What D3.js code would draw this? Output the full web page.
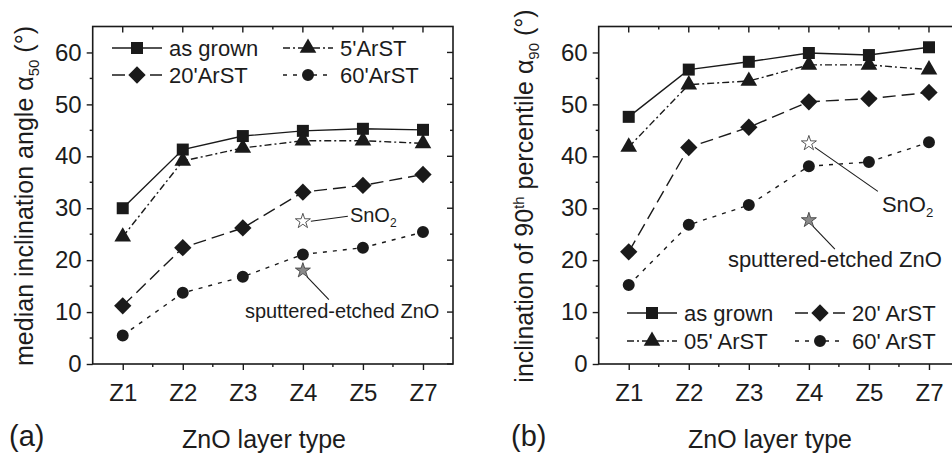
<!DOCTYPE html>
<html lang="en">
<head>
    <meta charset="UTF-8">
    <title>ZnO inclination angles</title>
    <style>
        body { margin: 0; background: #fff; }
        text { font-family: "Liberation Sans", Arial, sans-serif; fill: #1c1c1c; }
    </style>
</head>
<body>
    <div id="graph"></div>
    <script src="https://d3js.org/d3.v7.min.js"></script>
    <script>
        // Categories and ticks
        const CATEGORIES = ["Z1", "Z2", "Z3", "Z4", "Z5", "Z7"];
        const Y_TICKS = [0, 10, 20, 30, 40, 50, 60];
        const Y_MINOR = [5, 15, 25, 35, 45, 55];

        // Panel (a): median inclination angle
        const A_AS_GROWN = [30.0, 41.3, 43.9, 44.9, 45.3, 45.1];
        const A_5ARST = [24.5, 39.1, 41.6, 43.0, 43.0, 42.5];
        const A_20ARST = [11.2, 22.4, 26.2, 33.1, 34.4, 36.5];
        const A_60ARST = [5.5, 13.7, 16.8, 21.1, 22.4, 25.4];
        const A_SNO2 = 27.5;
        const A_SPUTTER = 18.0;

        // Panel (b): 90th percentile
        const B_AS_GROWN = [47.6, 56.7, 58.2, 59.9, 59.5, 61.0];
        const B_05ARST = [41.8, 53.8, 54.5, 57.6, 57.6, 56.7];
        const B_20ARST = [21.6, 41.7, 45.6, 50.5, 51.1, 52.3];
        const B_60ARST = [15.2, 26.8, 30.6, 38.1, 38.9, 42.7];
        const B_SNO2 = 42.5;
        const B_SPUTTER = 27.7;

        const A_LABELS = ["as grown", "5'ArST", "20'ArST", "60'ArST"];
        const B_LABELS = ["as grown", "05' ArST", "20' ArST", "60' ArST"];

        const WIDTH = 952, HEIGHT = 455;
        const INK = "#1a1a1a";

        // styles per series: marker + dash
        const STYLES = [
            { sym: d3.symbolSquare, size: 144, rot: 0, dash: null },
            { sym: d3.symbolTriangle, size: 120, rot: 0, dash: "7 3 2 3" },
            { sym: d3.symbolSquare, size: 150, rot: 45, dash: "13 6" },
            { sym: d3.symbolCircle, size: 113, rot: 0, dash: "4 6" }
        ];

        const svg = d3.select("#graph")
            .append("svg")
            .attr("width", WIDTH)
            .attr("height", HEIGHT);

        function drawPanel(p) {
            const x = d3.scalePoint().domain(CATEGORIES).range([p.left, p.right]).padding(0.5);
            const y = d3.scaleLinear().domain([0, 65]).range([364, 26.5]);
            const g = svg.append("g");

            // frame
            g.append("rect")
                .attr("x", p.left).attr("y", y(65))
                .attr("width", p.right - p.left).attr("height", y(0) - y(65))
                .attr("fill", "none").attr("stroke", INK).attr("stroke-width", 1.6);

            // axes (left / bottom outward, top / right inward)
            const step = x.step();
            const xMinor = CATEGORIES.slice(0, -1).map(c => x(c) + step / 2);
            const left = g.append("g").attr("transform", `translate(${p.left},0)`)
                .call(d3.axisLeft(y).tickValues(Y_TICKS).tickSize(6).tickPadding(5));
            const bottom = g.append("g").attr("transform", `translate(0,${y(0)})`)
                .call(d3.axisBottom(x).tickSize(6).tickPadding(14));
            [left, bottom].forEach(a => {
                a.select(".domain").remove();
                a.selectAll("line").attr("stroke", INK).attr("stroke-width", 1.4);
                a.selectAll("text").attr("font-size", 24).attr("fill", INK)
                    .attr("font-family", "Liberation Sans, Arial, sans-serif");
            });
            // minor ticks and mirrored ticks
            const tk = g.append("g").attr("stroke", INK).attr("stroke-width", 1.4);
            Y_MINOR.forEach(v => {
                tk.append("line").attr("x1", p.left - 3).attr("x2", p.left).attr("y1", y(v)).attr("y2", y(v));
                tk.append("line").attr("x1", p.right - 3).attr("x2", p.right).attr("y1", y(v)).attr("y2", y(v));
            });
            Y_TICKS.forEach(v => {
                tk.append("line").attr("x1", p.right - 6).attr("x2", p.right).attr("y1", y(v)).attr("y2", y(v));
            });
            xMinor.forEach(v => {
                tk.append("line").attr("x1", v).attr("x2", v).attr("y1", y(0)).attr("y2", y(0) + 3);
                tk.append("line").attr("x1", v).attr("x2", v).attr("y1", y(65)).attr("y2", y(65) + 3);
            });
            CATEGORIES.forEach(c => {
                tk.append("line").attr("x1", x(c)).attr("x2", x(c)).attr("y1", y(65)).attr("y2", y(65) + 6);
            });

            // series
            p.series.forEach((vals, i) => {
                const st = STYLES[i];
                const pts = vals.map((v, j) => [x(CATEGORIES[j]), y(v)]);
                g.append("path")
                    .attr("d", d3.line()(pts))
                    .attr("fill", "none").attr("stroke", INK).attr("stroke-width", 1.4)
                    .attr("stroke-dasharray", st.dash);
                g.selectAll(null).data(pts).enter().append("path")
                    .attr("d", d3.symbol(st.sym, st.size))
                    .attr("transform", d => `translate(${d[0]},${d[1]}) rotate(${st.rot})`)
                    .attr("fill", INK);
            });

            // stars
            const sx = x("Z4");
            const stars = [
                { v: p.sno2, fill: "#fff" },
                { v: p.sputter, fill: "#8a8a8a" }
            ];
            g.selectAll(null).data(stars).enter().append("path")
                .attr("d", d3.symbol(d3.symbolStar, 70))
                .attr("transform", d => `translate(${sx},${y(d.v)})`)
                .attr("fill", d => d.fill).attr("stroke", "#444").attr("stroke-width", 0.9);

            // annotations
            p.notes.forEach(n => {
                const y0 = y(n.v);
                g.append("line")
                    .attr("x1", sx + n.lx1).attr("y1", y0 + n.ly1)
                    .attr("x2", sx + n.lx2).attr("y2", y0 + n.ly2)
                    .attr("stroke", INK).attr("stroke-width", 1.1);
                const t = g.append("text")
                    .attr("x", sx + n.tx).attr("y", y0 + n.ty)
                    .attr("font-size", n.fs);
                if (n.sub) {
                    t.append("tspan").text("SnO");
                    t.append("tspan").attr("dy", 5).attr("font-size", n.fs * 0.6).text("2");
                } else {
                    t.text(n.label);
                }
            });

            // legend
            p.legend.forEach(lg => {
                const st = STYLES[lg.s];
                const lx = lg.x, ly = lg.y;
                g.append("line")
                    .attr("x1", lx).attr("x2", lx + 50).attr("y1", ly).attr("y2", ly)
                    .attr("stroke", INK).attr("stroke-width", 1.4)
                    .attr("stroke-dasharray", st.dash);
                g.append("path")
                    .attr("d", d3.symbol(st.sym, st.size))
                    .attr("transform", `translate(${lx + 25},${ly}) rotate(${st.rot})`)
                    .attr("fill", INK);
                g.append("text")
                    .attr("x", lx + 57).attr("y", ly + 8)
                    .attr("font-size", 22)
                    .text(lg.label);
            });

            // y title (rotated)
            const yt = g.append("text")
                .attr("transform", `translate(${p.ytX},196) rotate(-90)`)
                .attr("text-anchor", "middle")
                .attr("font-size", 25);
            p.ytitle(yt);

            // x title and panel letter
            g.append("text")
                .attr("x", p.xtX).attr("y", 448)
                .attr("text-anchor", "middle")
                .attr("font-size", 25)
                .text("ZnO layer type");
            g.append("text")
                .attr("x", p.letterX).attr("y", 446)
                .attr("font-size", 29)
                .text(p.letter);
        }

        drawPanel({
            left: 92.7, right: 453,
            series: [A_AS_GROWN, A_5ARST, A_20ARST, A_60ARST],
            sno2: A_SNO2, sputter: A_SPUTTER,
            notes: [
                { v: A_SNO2, lx1: 8, ly1: 0, lx2: 45, ly2: -5, tx: 47, ty: 1, fs: 20, sub: true },
                { v: A_SPUTTER, lx1: 4, ly1: 6, lx2: 26, ly2: 29, tx: -58, ty: 47, fs: 20, label: "sputtered-etched ZnO" }
            ],
            legend: [
                { s: 0, x: 112, y: 48, label: A_LABELS[0] },
                { s: 1, x: 283, y: 48, label: A_LABELS[1] },
                { s: 2, x: 112, y: 75, label: A_LABELS[2] },
                { s: 3, x: 283, y: 75, label: A_LABELS[3] }
            ],
            ytX: 33,
            ytitle: t => {
                t.append("tspan").text("median inclination angle α");
                t.append("tspan").attr("dy", 6).attr("font-size", 15).text("50");
                t.append("tspan").attr("dy", -6).text(" (°)");
            },
            xtX: 264, letterX: 9, letter: "(a)"
        });

        drawPanel({
            left: 598.7, right: 959,
            series: [B_AS_GROWN, B_05ARST, B_20ARST, B_60ARST],
            sno2: B_SNO2, sputter: B_SPUTTER,
            notes: [
                { v: B_SNO2, lx1: 6, ly1: 4, lx2: 69, ly2: 48, tx: 73, ty: 69, fs: 22, sub: true },
                { v: B_SPUTTER, lx1: 4, ly1: 6, lx2: 26, ly2: 29, tx: -81, ty: 47, fs: 22, label: "sputtered-etched ZnO" }
            ],
            legend: [
                { s: 0, x: 627, y: 313, label: B_LABELS[0] },
                { s: 2, x: 795, y: 313, label: B_LABELS[2] },
                { s: 1, x: 627, y: 341, label: B_LABELS[1] },
                { s: 3, x: 795, y: 341, label: B_LABELS[3] }
            ],
            ytX: 533,
            ytitle: t => {
                t.append("tspan").text("inclination of 90");
                t.append("tspan").attr("dy", -9).attr("font-size", 15).text("th");
                t.append("tspan").attr("dy", 9).text(" percentile α");
                t.append("tspan").attr("dy", 6).attr("font-size", 15).text("90");
                t.append("tspan").attr("dy", -6).text(" (°)");
            },
            xtX: 770, letterX: 511, letter: "(b)"
        });
    </script>
</body>
</html>
